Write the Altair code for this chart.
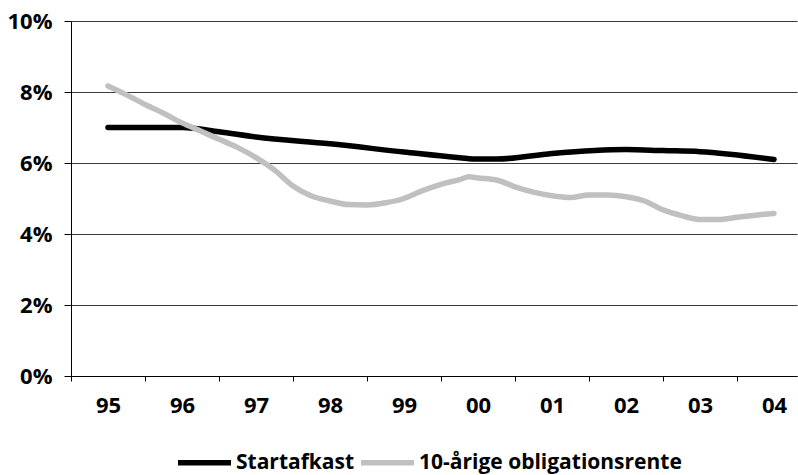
import altair as alt
import pandas as pd

# Category labels on the x axis (one per year, 1995-2004)
years = ["95", "96", "97", "98", "99", "00", "01", "02", "03", "04"]
series = ["Startafkast", "10-årige obligationsrente"]

# Startafkast, position in years from 1995 and value in percent
start_t = [0, 1, 1.5, 2, 3, 4, 4.75, 5, 5.25, 6, 7, 7.5, 8, 9]
start_val = [7.0, 7.0, 6.88, 6.73, 6.54, 6.31, 6.15, 6.11, 6.11, 6.27, 6.38, 6.35, 6.32, 6.10]

# 10-year bond yield, quarterly, in percent
bond_t = [0, 0.25, 0.5, 0.75, 1, 1.25, 1.5, 1.75, 2, 2.25, 2.5, 2.75, 3, 3.25, 3.5,
          3.75, 4, 4.25, 4.5, 4.75, 4.88, 5, 5.25, 5.5, 5.75, 6, 6.25, 6.5, 6.75,
          7, 7.25, 7.5, 7.75, 8, 8.25, 8.5, 8.75, 9]
bond_val = [8.17, 7.92, 7.65, 7.40, 7.13, 6.90, 6.67, 6.44, 6.15, 5.80, 5.35, 5.07,
            4.93, 4.83, 4.82, 4.88, 5.00, 5.22, 5.40, 5.53, 5.61, 5.58, 5.52, 5.33,
            5.18, 5.08, 5.03, 5.10, 5.10, 5.05, 4.93, 4.68, 4.52, 4.41, 4.41, 4.47,
            4.53, 4.58]

start_df = pd.DataFrame({"t": start_t, "v": start_val, "serie": series[0]})
bond_df = pd.DataFrame({"t": bond_t, "v": bond_val, "serie": series[1]})

FONT = "Open Sans"

x_scale = alt.Scale(domain=[-0.5, 9.31], nice=False, zero=False)
y_scale = alt.Scale(domain=[0, 10], nice=False)

color = alt.Color(
    "serie:N",
    scale=alt.Scale(domain=series, range=["#000000", "#c0c0c0"]),
    legend=alt.Legend(
        title=None,
        orient="none",
        direction="horizontal",
        legendX=104,
        legendY=412,
        symbolType="stroke",
        symbolSize=2809,
        symbolStrokeWidth=5.5,
        labelFont=FONT,
        labelFontSize=21,
        labelFontWeight="bold",
        labelColor="#000000",
        labelLimit=0,
        labelOffset=2,
        columnPadding=-5,
        padding=0,
    ),
)

y_enc = alt.Y(
    "v:Q",
    scale=y_scale,
    axis=alt.Axis(
        title=None,
        values=[0, 2, 4, 6, 8, 10],
        labelExpr="datum.value + '%'",
        grid=True,
        gridColor="#3a3a3a",
        gridWidth=1,
        tickSize=7,
        tickColor="#000000",
        domainColor="#000000",
        labelFont=FONT,
        labelFontSize=22,
        labelFontWeight="bold",
        labelColor="#000000",
        labelPadding=12,
    ),
)

# boundary ticks between the year categories
tick_axis = alt.Axis(
    title=None,
    orient="bottom",
    values=[i - 0.5 for i in range(10)],
    labels=False,
    ticks=True,
    tickSize=5,
    tickColor="#000000",
    domain=True,
    domainColor="#000000",
    grid=False,
)

# year labels centred in each category
label_expr = "[" + ",".join("'%s'" % y for y in years) + "][datum.value]"
label_axis = alt.Axis(
    title=None,
    orient="bottom",
    values=list(range(10)),
    labelExpr=label_expr,
    ticks=False,
    tickSize=0,
    domain=False,
    grid=False,
    labelFont=FONT,
    labelFontSize=22,
    labelFontWeight="bold",
    labelColor="#000000",
    labelPadding=19,
)

line_style = dict(strokeWidth=5.5, strokeCap="round", strokeJoin="round", interpolate="monotone")

start_line = alt.Chart(start_df).mark_line(**line_style).encode(
    x=alt.X("t:Q", scale=x_scale, axis=tick_axis),
    y=y_enc,
    color=color,
)

bond_line = alt.Chart(bond_df).mark_line(**line_style).encode(
    x=alt.X("t:Q", scale=x_scale, axis=label_axis),
    y=y_enc,
    color=color,
)

chart = (
    alt.layer(start_line, bond_line)
    .resolve_axis(x="independent")
    .properties(
        width=726,
        height=355,
        autosize=alt.AutoSizeParams(type="none"),
        padding={"left": 71, "top": 21, "right": 1, "bottom": 99},
        background="#ffffff",
    )
    .configure_view(stroke=None)
)

chart.save("out.html", embed_options={"renderer": "svg", "actions": False})
